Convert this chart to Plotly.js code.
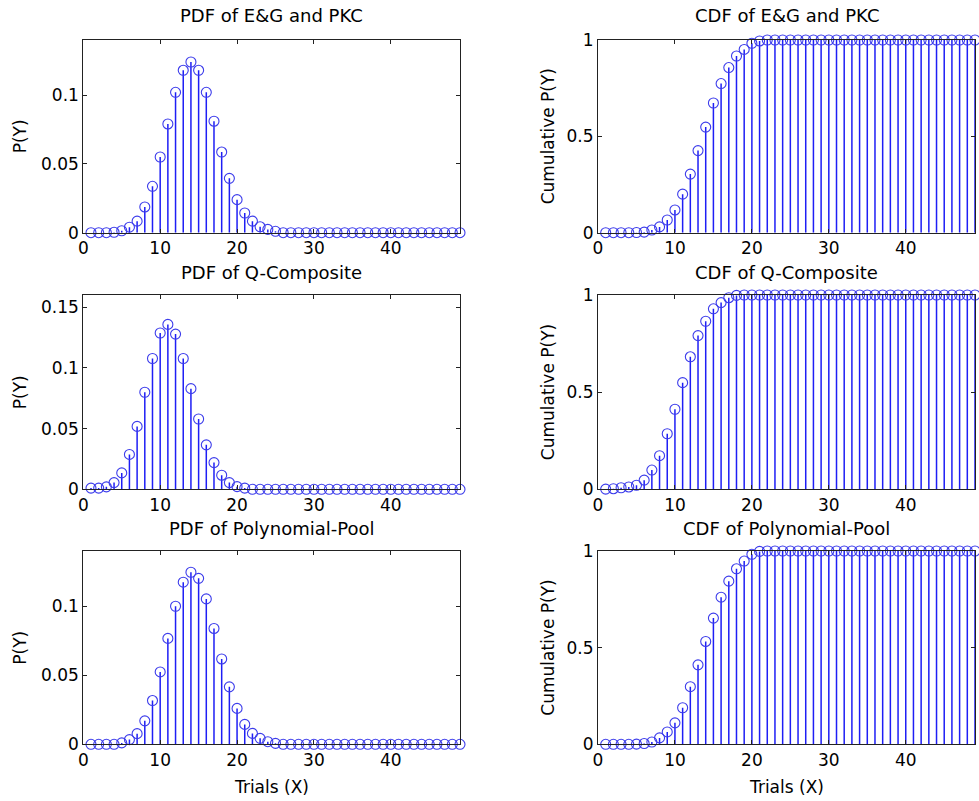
<!DOCTYPE html>
<html>
<head>
<meta charset="utf-8">
<script src="https://cdn.plot.ly/plotly-3.0.1.min.js"></script>
<style>html,body{margin:0;padding:0;background:#fff;}#chart{width:979px;height:801px;}</style>
</head>
<body>
<div id="chart"></div>
<script>
// ---- data ----
const trials = [1,2,3,4,5,6,7,8,9,10,11,12,13,14,15,16,17,18,19,20,21,22,23,24,25,26,27,28,29,30,31,32,33,34,35,36,37,38,39,40,41,42,43,44,45,46,47,48,49];

const pdfEG = [0,0,0,0.0003,0.0014,0.004,0.0084,0.0187,0.0337,0.055,0.079,0.102,0.118,0.124,0.118,0.102,0.081,0.0586,0.0395,0.024,0.0143,0.0084,0.0043,0.0024,0.001,0,0,0,0,0,0,0,0,0,0,0,0,0,0,0,0,0,0,0,0,0,0,0,0];
const pdfQ = [0.001,0.001,0.002,0.0055,0.0135,0.0287,0.0518,0.0799,0.1077,0.1287,0.1358,0.1278,0.1077,0.0829,0.0579,0.0366,0.022,0.0116,0.0055,0.0022,0.001,0,0,0,0,0,0,0,0,0,0,0,0,0,0,0,0,0,0,0,0,0,0,0,0,0,0,0,0];
const pdfPP = [0,0,0,0,0.001,0.0034,0.0077,0.017,0.0317,0.0524,0.0767,0.100,0.1174,0.1246,0.1202,0.1053,0.0839,0.0618,0.0416,0.026,0.0144,0.0079,0.0043,0.0019,0.0007,0,0,0,0,0,0,0,0,0,0,0,0,0,0,0,0,0,0,0,0,0,0,0,0];

const cdfEG = [0,0,0,0,0.001,0.003,0.014,0.030,0.066,0.118,0.200,0.304,0.426,0.548,0.673,0.774,0.857,0.917,0.951,0.983,0.995,1,1,1,1,1,1,1,1,1,1,1,1,1,1,1,1,1,1,1,1,1,1,1,1,1,1,1,1];
const cdfQ = [0.001,0.003,0.008,0.012,0.021,0.047,0.099,0.173,0.286,0.412,0.549,0.682,0.791,0.865,0.929,0.961,0.986,0.998,1,1,1,1,1,1,1,1,1,1,1,1,1,1,1,1,1,1,1,1,1,1,1,1,1,1,1,1,1,1,1];
const cdfPP = [0,0,0,0,0.001,0.004,0.012,0.033,0.064,0.111,0.189,0.298,0.411,0.532,0.653,0.761,0.844,0.908,0.948,0.983,0.998,1,1,1,1,1,1,1,1,1,1,1,1,1,1,1,1,1,1,1,1,1,1,1,1,1,1,1,1];

const panelTitles = ["PDF of E&G and PKC","CDF of E&G and PKC","PDF of Q-Composite","CDF of Q-Composite","PDF of Polynomial-Pool","CDF of Polynomial-Pool"];
const xTickVals = [0,10,20,30,40];
const xTickText = ["0","10","20","30","40"];
const pdfTickVals = [0,0.05,0.1];
const pdfTickText = ["0","0.05","0.1"];
const pdfQTickVals = [0,0.05,0.1,0.15];
const pdfQTickText = ["0","0.05","0.1","0.15"];
const cdfTickVals = [0,0.5,1];
const cdfTickText = ["0","0.5","1"];
const xLabel = "Trials (X)";
const pdfLabel = "P(Y)";
const cdfLabel = "Cumulative P(Y)";

// ---- layout geometry ----
const W = 979, H = 801;
const colX = [[83.3,460],[598,975]];
const rowY = [[40,232.7],[295,489.3],[551,744.3]];
const series = [pdfEG, cdfEG, pdfQ, cdfQ, pdfPP, cdfPP];
const yRanges = [[0,0.14],[0,1],[0,0.16],[0,1],[0,0.14],[0,1]];
const yTicks = [[pdfTickVals,pdfTickText],[cdfTickVals,cdfTickText],[pdfQTickVals,pdfQTickText],[cdfTickVals,cdfTickText],[pdfTickVals,pdfTickText],[cdfTickVals,cdfTickText]];

const FONT = "DejaVu Sans, Liberation Sans, Arial, sans-serif";
const BLUE = "rgb(30,30,245)";
const MBLUE = "rgb(60,60,235)";

const traces = [];
const layout = {
  width: W, height: H,
  margin: {l:0, r:0, t:0, b:0},
  paper_bgcolor: "#fff", plot_bgcolor: "#fff",
  showlegend: false,
  font: {family: FONT, size: 17, color: "#000"},
  annotations: []
};

for (let i = 0; i < 6; i++) {
  const r = Math.floor(i/2), c = i % 2;
  const n = i + 1;
  const xa = n === 1 ? "x" : "x" + n;
  const ya = n === 1 ? "y" : "y" + n;
  const ys = series[i];
  // stems: vertical segments from baseline 0 to each value
  const sx = [], sy = [];
  trials.forEach((t, k) => { sx.push(t, t, null); sy.push(0, ys[k], null); });
  traces.push({
    type: "scatter", mode: "lines", x: sx, y: sy, xaxis: xa, yaxis: ya,
    cliponaxis: false, hoverinfo: "skip", connectgaps: false,
    line: {color: BLUE, width: 1.5}
  });
  traces.push({
    type: "scatter", mode: "markers", x: trials, y: ys,
    xaxis: xa, yaxis: ya, cliponaxis: false, hoverinfo: "x+y",
    marker: {symbol: "circle-open", size: 10, color: MBLUE, line: {width: 1.1, color: MBLUE}}
  });
  const xd = [colX[c][0]/W, colX[c][1]/W];
  const yd = [(H-rowY[r][1])/H, (H-rowY[r][0])/H];
  const axCommon = {
    showline: true, linecolor: "#222", linewidth: 1, mirror: "ticks",
    ticks: "inside", ticklen: 4, tickwidth: 1, tickcolor: "#222",
    showgrid: false, zeroline: false, fixedrange: true,
    tickfont: {family: FONT, size: 17, color: "#000"}
  };
  layout["xaxis" + (n === 1 ? "" : n)] = Object.assign({}, axCommon, {
    domain: xd, range: [0,49], tickmode: "array", tickvals: xTickVals, ticktext: xTickText,
    anchor: ya
  });
  layout["yaxis" + (n === 1 ? "" : n)] = Object.assign({}, axCommon, {
    domain: yd, range: yRanges[i], tickmode: "array", tickvals: yTicks[i][0], ticktext: yTicks[i][1],
    anchor: xa
  });
  const cx = (colX[c][0] + colX[c][1]) / 2 / W;
  const titleY = [15, 272, 528][r];
  layout.annotations.push({
    text: panelTitles[i], xref: "paper", yref: "paper", x: cx, y: (H - titleY)/H,
    xanchor: "center", yanchor: "middle", showarrow: false,
    font: {family: FONT, size: 18, color: "#000"}
  });
  const labX = c === 0 ? 20 : 548;
  layout.annotations.push({
    text: c === 0 ? pdfLabel : cdfLabel, xref: "paper", yref: "paper",
    x: labX / W, y: (H - (rowY[r][0] + rowY[r][1]) / 2) / H,
    xanchor: "center", yanchor: "middle", textangle: -90, showarrow: false,
    font: {family: FONT, size: 17, color: "#000"}
  });
  if (r === 2) {
    layout.annotations.push({
      text: xLabel, xref: "paper", yref: "paper", x: cx, y: (H - 787)/H,
      xanchor: "center", yanchor: "middle", showarrow: false,
      font: {family: FONT, size: 17, color: "#000"}
    });
  }
}

Plotly.newPlot("chart", traces, layout, {displayModeBar: false, staticPlot: true});
</script>
</body>
</html>
